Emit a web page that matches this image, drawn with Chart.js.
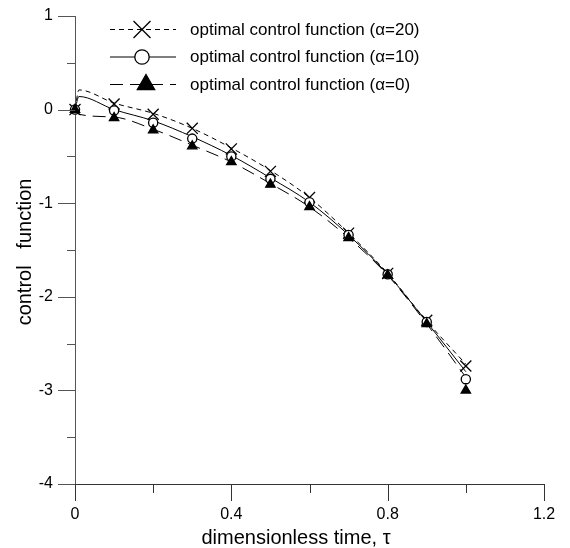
<!DOCTYPE html>
<html><head><meta charset="utf-8">
<script src="https://cdn.jsdelivr.net/npm/chart.js@4.4.0/dist/chart.umd.min.js"></script>
<style>html,body{margin:0;padding:0;background:#fff;}#wrap{position:relative;width:570px;height:548px;}</style>
</head><body><div id="wrap"><canvas id="c" width="570" height="548"></canvas></div>
<script>
// marker samples
const tauMarks = [0, 0.1, 0.2, 0.3, 0.4, 0.5, 0.6, 0.7, 0.8, 0.9, 1.0];
const ctrlAlpha20 = [0, 0.06, -0.05, -0.20, -0.42, -0.66, -0.94, -1.32, -1.75, -2.25, -2.74];
const ctrlAlpha10 = [0, -0.01, -0.14, -0.31, -0.50, -0.74, -0.99, -1.34, -1.76, -2.27, -2.88];
const ctrlAlpha0  = [0, -0.09, -0.22, -0.39, -0.56, -0.80, -1.04, -1.37, -1.77, -2.29, -3.00];
// continuous curves (with the start-up spike near tau = 0)
const tauCurve = [0, 0.01, 0.1, 0.2, 0.3, 0.4, 0.5, 0.6, 0.7, 0.8, 0.9, 1.0];
const curveAlpha20 = [0, 0.21, 0.07, -0.04, -0.20, -0.41, -0.65, -0.94, -1.32, -1.75, -2.26, -2.72];
const curveAlpha10 = [0, 0.14, 0.00, -0.12, -0.29, -0.49, -0.73, -0.99, -1.34, -1.76, -2.27, -2.80];
const curveAlpha0  = [0, -0.05, -0.08, -0.21, -0.38, -0.56, -0.79, -1.04, -1.37, -1.77, -2.29, -2.86];
const seriesNames = ['optimal control function (\u03B1=20)', 'optimal control function (\u03B1=10)', 'optimal control function (\u03B1=0)'];
const xTickValues = [0, 0.2, 0.4, 0.6, 0.8, 1.0, 1.2];
const xTickLabels = ['0', '', '0.4', '', '0.8', '', '1.2'];
const yTickValues = [-4, -3.5, -3, -2.5, -2, -1.5, -1, -0.5, 0, 0.5, 1];
const yTickLabels = ['-4', '', '-3', '', '-2', '', '-1', '', '0', '', '1'];
const xTitle = 'dimensionless time, \u03C4';
const yTitle = 'control   function';

const FONT = "'Liberation Sans', Arial, sans-serif";
const toXY = (xs, ys) => xs.map((x, i) => ({x: x, y: ys[i]}));

const styles = [
  {dash: [5, 4], point: 'crossRot', r: 7.8, lr: 12},
  {dash: [], point: 'circle', r: 4.6, lr: 7.2},
  {dash: [13, 7], point: 'triangle', r: 5.4, lr: 10}
];

function drawMarker(ctx, style, x, y, r) {
  ctx.save();
  ctx.strokeStyle = '#000';
  ctx.lineWidth = 1.3;
  ctx.setLineDash([]);
  ctx.beginPath();
  if (style === 'crossRot') {
    const d = r * Math.SQRT1_2;
    ctx.moveTo(x - d, y - d); ctx.lineTo(x + d, y + d);
    ctx.moveTo(x + d, y - d); ctx.lineTo(x - d, y + d);
    ctx.stroke();
  } else if (style === 'circle') {
    ctx.arc(x, y, r, 0, Math.PI * 2);
    ctx.fillStyle = '#fff'; ctx.fill(); ctx.stroke();
  } else {
    const w = r * Math.sqrt(3) / 2;
    ctx.moveTo(x, y - r); ctx.lineTo(x + w, y + r / 2); ctx.lineTo(x - w, y + r / 2); ctx.closePath();
    ctx.fillStyle = '#000'; ctx.fill(); ctx.stroke();
  }
  ctx.restore();
}

const decor = {
  id: 'decor',
  afterDraw(chart) {
    const ctx = chart.ctx, xs = chart.scales.x, ys = chart.scales.y;
    const ca = chart.chartArea;
    ctx.save();
    // x ticks
    ctx.strokeStyle = '#333'; ctx.lineWidth = 1;
    xTickValues.forEach((v, i) => {
      const px = Math.round(xs.getPixelForValue(v)) + 0.5;
      const len = xTickLabels[i] ? 17 : 9;
      ctx.beginPath(); ctx.moveTo(px, ca.bottom); ctx.lineTo(px, ca.bottom + len); ctx.stroke();
    });
    // y ticks
    ctx.strokeStyle = '#555';
    yTickValues.forEach((v, i) => {
      const py = Math.round(ys.getPixelForValue(v)) + 0.5;
      const len = yTickLabels[i] ? 17 : 8;
      ctx.beginPath(); ctx.moveTo(ca.left - len, py); ctx.lineTo(ca.left, py); ctx.stroke();
    });
    // titles
    ctx.fillStyle = '#000';
    ctx.font = '20px ' + FONT;
    ctx.textAlign = 'center'; ctx.textBaseline = 'alphabetic';
    ctx.fillText(xTitle, 296, 544);
    ctx.save();
    ctx.translate(25, 252); ctx.rotate(-Math.PI / 2);
    ctx.textBaseline = 'middle';
    ctx.fillText(yTitle, 0, 0);
    ctx.restore();
    // legend
    const rows = [29, 56.5, 84];
    const mx = [142, 142, 146];
    ctx.font = '17px ' + FONT;
    ctx.textAlign = 'left'; ctx.textBaseline = 'middle';
    styles.forEach((s, i) => {
      const y = rows[i];
      ctx.save();
      ctx.strokeStyle = '#000'; ctx.lineWidth = 1;
      ctx.setLineDash(s.dash);
      ctx.beginPath(); ctx.moveTo(110, y + 0.5); ctx.lineTo(176, y + 0.5); ctx.stroke();
      ctx.restore();
      drawMarker(ctx, s.point, mx[i], y + 0.5, s.lr);
      ctx.fillStyle = '#000';
      ctx.fillText(seriesNames[i], 190, y + 1);
    });
    ctx.restore();
  }
};

const markerPlugin = {
  id: 'markers',
  afterDatasetsDraw(chart) {
    const ctx = chart.ctx;
    [3, 4, 5].forEach((di, k) => {
      const meta = chart.getDatasetMeta(di);
      meta.data.forEach(el => drawMarker(ctx, styles[k].point, el.x, el.y, styles[k].r));
    });
  }
};

const lineDs = (data, s) => ({
  type: 'line', data: data, borderColor: '#000', borderWidth: 1, borderDash: s.dash,
  pointRadius: 0, fill: false, cubicInterpolationMode: 'monotone', order: 2
});
const markDs = (data) => ({
  type: 'scatter', data: data, showLine: false, pointRadius: 0, pointHoverRadius: 0, order: 1
});

new Chart(document.getElementById('c'), {
  type: 'line',
  data: {
    datasets: [
      lineDs(toXY(tauCurve, curveAlpha20), styles[0]),
      lineDs(toXY(tauCurve, curveAlpha10), styles[1]),
      lineDs(toXY(tauCurve, curveAlpha0), styles[2]),
      markDs(toXY(tauMarks, ctrlAlpha20)),
      markDs(toXY(tauMarks, ctrlAlpha10)),
      markDs(toXY(tauMarks, ctrlAlpha0))
    ]
  },
  options: {
    responsive: false, animation: false, devicePixelRatio: 1,
    layout: {padding: {top: 16, right: 26, left: 0, bottom: 0}},
    plugins: {legend: {display: false}, tooltip: {enabled: false}, title: {display: false}},
    scales: {
      x: {
        type: 'linear', min: 0, max: 1.2,
        afterBuildTicks: s => { s.ticks = xTickValues.map(v => ({value: v})); },
        ticks: {
          autoSkip: false, maxRotation: 0, padding: 21, color: '#000',
          font: {family: FONT, size: 16},
          callback: (v, i) => xTickLabels[i]
        },
        grid: {display: false, drawTicks: false},
        border: {display: true, color: '#333', width: 1},
        afterFit: s => { s.height = 64; s.paddingLeft = 0; s.paddingRight = 0; s.paddingTop = 0; s.paddingBottom = 0; }
      },
      y: {
        type: 'linear', min: -4, max: 1,
        afterBuildTicks: s => { s.ticks = yTickValues.map(v => ({value: v})); },
        ticks: {
          autoSkip: false, padding: 22, color: '#000',
          font: {family: FONT, size: 16},
          callback: (v, i) => yTickLabels[i]
        },
        grid: {display: false, drawTicks: false},
        border: {display: true, color: '#555', width: 1},
        afterFit: s => { s.width = 75; s.paddingTop = 0; s.paddingBottom = 0; s.paddingLeft = 0; s.paddingRight = 0; }
      }
    }
  },
  plugins: [markerPlugin, decor]
});
</script></body></html>
